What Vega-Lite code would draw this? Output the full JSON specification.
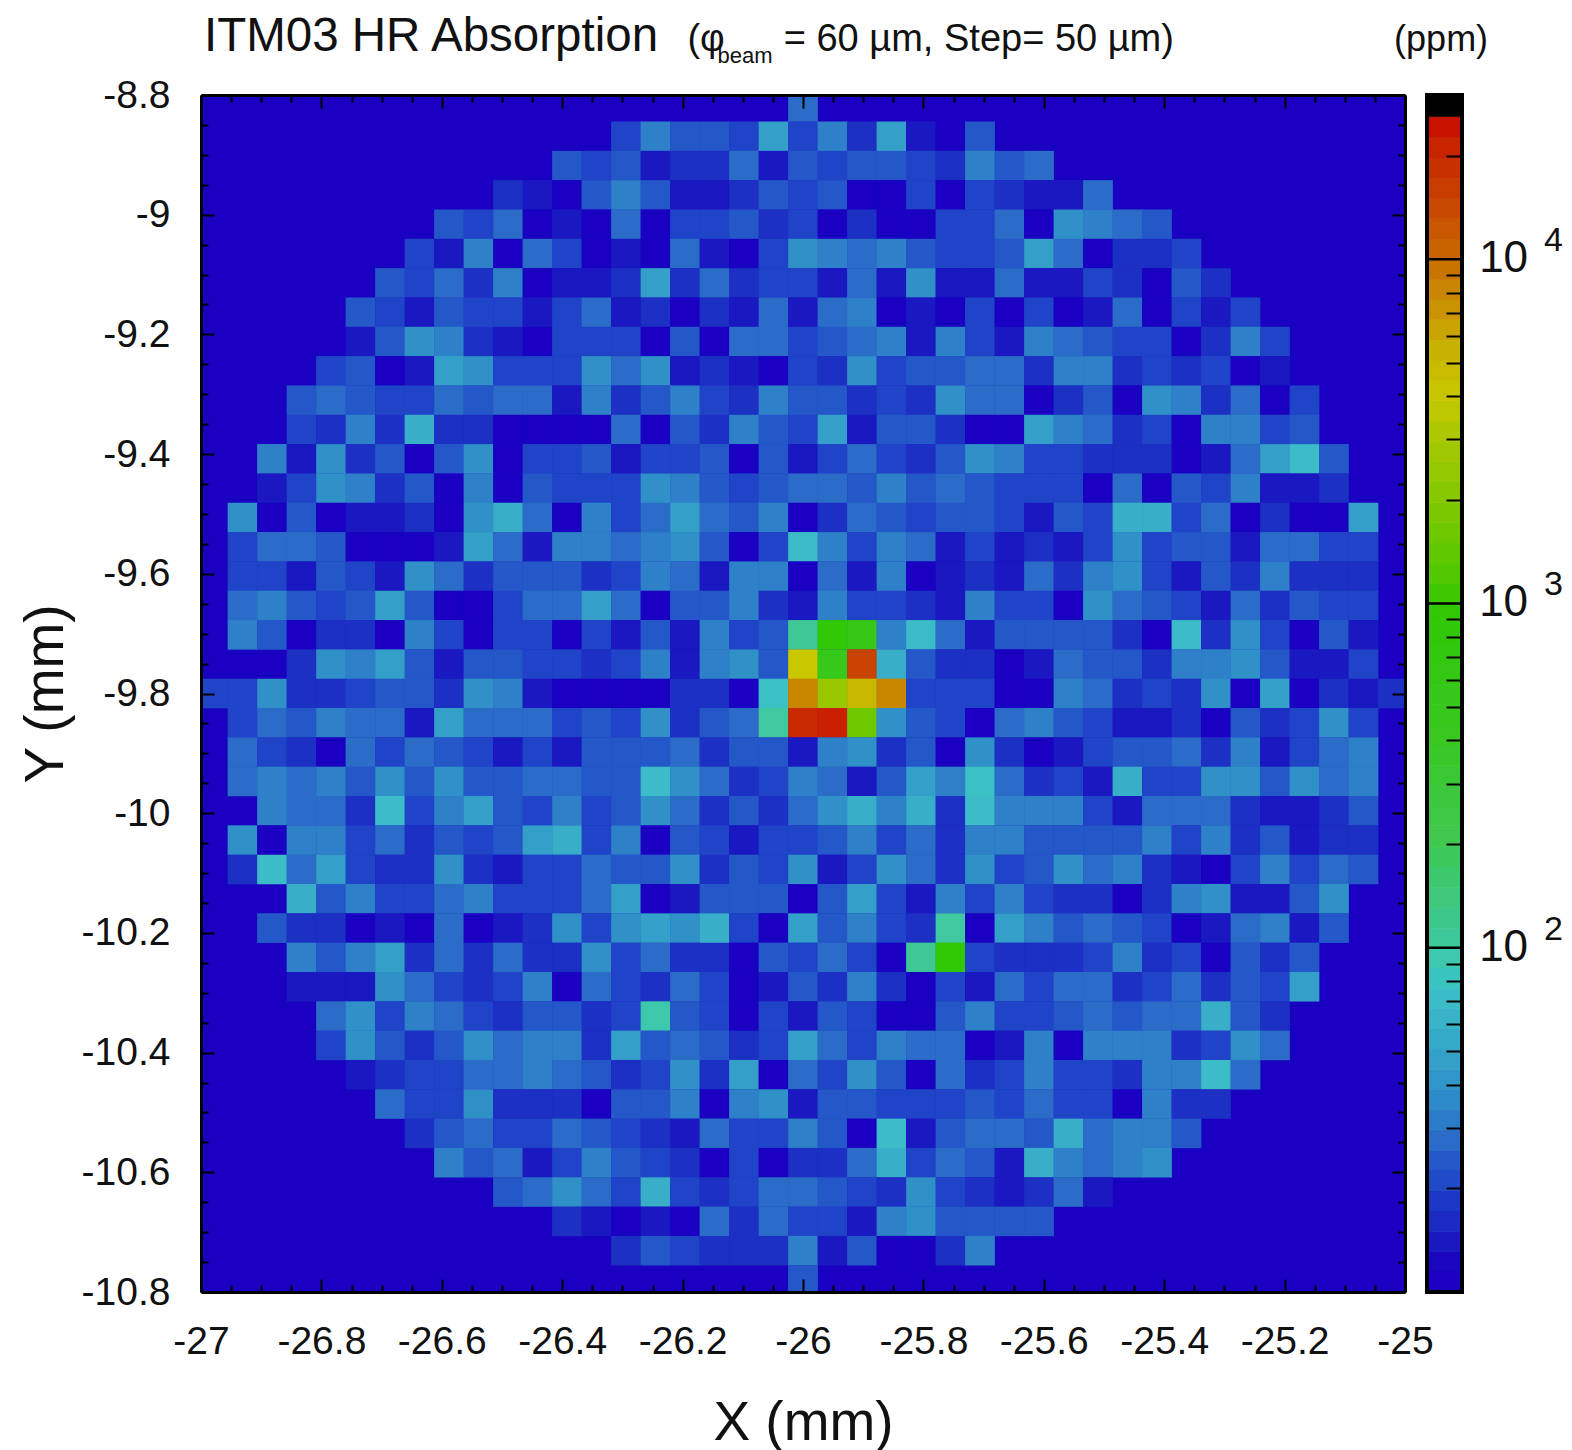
{"$schema":"https://vega.github.io/schema/vega-lite/v6.json","background":"white","padding":{"left":18,"top":12,"right":0,"bottom":0},"spacing":22,"bounds":"flush",
"config":{"font":"Liberation Sans"},
"datasets":{"cells":[
{"x":-26,"y":-8.82,"v":28},
{"x":-26.294,"y":-8.869,"v":20},{"x":-26.245,"y":-8.869,"v":33},{"x":-26.196,"y":-8.869,"v":24},{"x":-26.147,"y":-8.869,"v":24},{"x":-26.098,"y":-8.869,"v":20},{"x":-26.049,"y":-8.869,"v":46},{"x":-26,"y":-8.869,"v":20},{"x":-25.951,"y":-8.869,"v":33},{"x":-25.902,"y":-8.869,"v":17},{"x":-25.853,"y":-8.869,"v":46},{"x":-25.804,"y":-8.869,"v":14},{"x":-25.755,"y":-8.869,"v":11},{"x":-25.706,"y":-8.869,"v":24},
{"x":-26.392,"y":-8.918,"v":24},{"x":-26.343,"y":-8.918,"v":20},{"x":-26.294,"y":-8.918,"v":24},{"x":-26.245,"y":-8.918,"v":14},{"x":-26.196,"y":-8.918,"v":17},{"x":-26.147,"y":-8.918,"v":17},{"x":-26.098,"y":-8.918,"v":28},{"x":-26.049,"y":-8.918,"v":14},{"x":-26,"y":-8.918,"v":24},{"x":-25.951,"y":-8.918,"v":20},{"x":-25.902,"y":-8.918,"v":24},{"x":-25.853,"y":-8.918,"v":24},{"x":-25.804,"y":-8.918,"v":20},{"x":-25.755,"y":-8.918,"v":17},{"x":-25.706,"y":-8.918,"v":33},{"x":-25.657,"y":-8.918,"v":24},{"x":-25.608,"y":-8.918,"v":28},
{"x":-26.49,"y":-8.967,"v":17},{"x":-26.441,"y":-8.967,"v":14},{"x":-26.392,"y":-8.967,"v":11},{"x":-26.343,"y":-8.967,"v":24},{"x":-26.294,"y":-8.967,"v":33},{"x":-26.245,"y":-8.967,"v":24},{"x":-26.196,"y":-8.967,"v":14},{"x":-26.147,"y":-8.967,"v":14},{"x":-26.098,"y":-8.967,"v":17},{"x":-26.049,"y":-8.967,"v":24},{"x":-26,"y":-8.967,"v":20},{"x":-25.951,"y":-8.967,"v":24},{"x":-25.902,"y":-8.967,"v":11},{"x":-25.853,"y":-8.967,"v":11},{"x":-25.804,"y":-8.967,"v":20},{"x":-25.755,"y":-8.967,"v":11},{"x":-25.706,"y":-8.967,"v":20},{"x":-25.657,"y":-8.967,"v":17},{"x":-25.608,"y":-8.967,"v":14},{"x":-25.559,"y":-8.967,"v":14},{"x":-25.51,"y":-8.967,"v":28},
{"x":-26.588,"y":-9.016,"v":24},{"x":-26.539,"y":-9.016,"v":20},{"x":-26.49,"y":-9.016,"v":28},{"x":-26.441,"y":-9.016,"v":11},{"x":-26.392,"y":-9.016,"v":14},{"x":-26.343,"y":-9.016,"v":11},{"x":-26.294,"y":-9.016,"v":28},{"x":-26.245,"y":-9.016,"v":11},{"x":-26.196,"y":-9.016,"v":20},{"x":-26.147,"y":-9.016,"v":20},{"x":-26.098,"y":-9.016,"v":24},{"x":-26.049,"y":-9.016,"v":17},{"x":-26,"y":-9.016,"v":20},{"x":-25.951,"y":-9.016,"v":11},{"x":-25.902,"y":-9.016,"v":17},{"x":-25.853,"y":-9.016,"v":11},{"x":-25.804,"y":-9.016,"v":11},{"x":-25.755,"y":-9.016,"v":20},{"x":-25.706,"y":-9.016,"v":20},{"x":-25.657,"y":-9.016,"v":28},{"x":-25.608,"y":-9.016,"v":11},{"x":-25.559,"y":-9.016,"v":38},{"x":-25.51,"y":-9.016,"v":33},{"x":-25.461,"y":-9.016,"v":28},{"x":-25.412,"y":-9.016,"v":24},
{"x":-26.637,"y":-9.065,"v":20},{"x":-26.588,"y":-9.065,"v":14},{"x":-26.539,"y":-9.065,"v":33},{"x":-26.49,"y":-9.065,"v":11},{"x":-26.441,"y":-9.065,"v":28},{"x":-26.392,"y":-9.065,"v":20},{"x":-26.343,"y":-9.065,"v":11},{"x":-26.294,"y":-9.065,"v":14},{"x":-26.245,"y":-9.065,"v":11},{"x":-26.196,"y":-9.065,"v":28},{"x":-26.147,"y":-9.065,"v":14},{"x":-26.098,"y":-9.065,"v":11},{"x":-26.049,"y":-9.065,"v":20},{"x":-26,"y":-9.065,"v":38},{"x":-25.951,"y":-9.065,"v":33},{"x":-25.902,"y":-9.065,"v":28},{"x":-25.853,"y":-9.065,"v":33},{"x":-25.804,"y":-9.065,"v":24},{"x":-25.755,"y":-9.065,"v":20},{"x":-25.706,"y":-9.065,"v":20},{"x":-25.657,"y":-9.065,"v":24},{"x":-25.608,"y":-9.065,"v":46},{"x":-25.559,"y":-9.065,"v":28},{"x":-25.51,"y":-9.065,"v":11},{"x":-25.461,"y":-9.065,"v":17},{"x":-25.412,"y":-9.065,"v":17},{"x":-25.363,"y":-9.065,"v":20},
{"x":-26.686,"y":-9.114,"v":24},{"x":-26.637,"y":-9.114,"v":20},{"x":-26.588,"y":-9.114,"v":28},{"x":-26.539,"y":-9.114,"v":17},{"x":-26.49,"y":-9.114,"v":33},{"x":-26.441,"y":-9.114,"v":11},{"x":-26.392,"y":-9.114,"v":14},{"x":-26.343,"y":-9.114,"v":14},{"x":-26.294,"y":-9.114,"v":17},{"x":-26.245,"y":-9.114,"v":46},{"x":-26.196,"y":-9.114,"v":17},{"x":-26.147,"y":-9.114,"v":28},{"x":-26.098,"y":-9.114,"v":17},{"x":-26.049,"y":-9.114,"v":20},{"x":-26,"y":-9.114,"v":20},{"x":-25.951,"y":-9.114,"v":14},{"x":-25.902,"y":-9.114,"v":28},{"x":-25.853,"y":-9.114,"v":14},{"x":-25.804,"y":-9.114,"v":38},{"x":-25.755,"y":-9.114,"v":14},{"x":-25.706,"y":-9.114,"v":14},{"x":-25.657,"y":-9.114,"v":28},{"x":-25.608,"y":-9.114,"v":14},{"x":-25.559,"y":-9.114,"v":14},{"x":-25.51,"y":-9.114,"v":20},{"x":-25.461,"y":-9.114,"v":17},{"x":-25.412,"y":-9.114,"v":11},{"x":-25.363,"y":-9.114,"v":24},{"x":-25.314,"y":-9.114,"v":17},
{"x":-26.735,"y":-9.163,"v":24},{"x":-26.686,"y":-9.163,"v":20},{"x":-26.637,"y":-9.163,"v":14},{"x":-26.588,"y":-9.163,"v":24},{"x":-26.539,"y":-9.163,"v":20},{"x":-26.49,"y":-9.163,"v":20},{"x":-26.441,"y":-9.163,"v":14},{"x":-26.392,"y":-9.163,"v":20},{"x":-26.343,"y":-9.163,"v":28},{"x":-26.294,"y":-9.163,"v":14},{"x":-26.245,"y":-9.163,"v":17},{"x":-26.196,"y":-9.163,"v":11},{"x":-26.147,"y":-9.163,"v":17},{"x":-26.098,"y":-9.163,"v":14},{"x":-26.049,"y":-9.163,"v":28},{"x":-26,"y":-9.163,"v":14},{"x":-25.951,"y":-9.163,"v":28},{"x":-25.902,"y":-9.163,"v":33},{"x":-25.853,"y":-9.163,"v":11},{"x":-25.804,"y":-9.163,"v":14},{"x":-25.755,"y":-9.163,"v":11},{"x":-25.706,"y":-9.163,"v":20},{"x":-25.657,"y":-9.163,"v":11},{"x":-25.608,"y":-9.163,"v":20},{"x":-25.559,"y":-9.163,"v":11},{"x":-25.51,"y":-9.163,"v":14},{"x":-25.461,"y":-9.163,"v":28},{"x":-25.412,"y":-9.163,"v":11},{"x":-25.363,"y":-9.163,"v":20},{"x":-25.314,"y":-9.163,"v":14},{"x":-25.265,"y":-9.163,"v":20},
{"x":-26.735,"y":-9.212,"v":14},{"x":-26.686,"y":-9.212,"v":24},{"x":-26.637,"y":-9.212,"v":38},{"x":-26.588,"y":-9.212,"v":33},{"x":-26.539,"y":-9.212,"v":17},{"x":-26.49,"y":-9.212,"v":14},{"x":-26.441,"y":-9.212,"v":11},{"x":-26.392,"y":-9.212,"v":20},{"x":-26.343,"y":-9.212,"v":20},{"x":-26.294,"y":-9.212,"v":20},{"x":-26.245,"y":-9.212,"v":11},{"x":-26.196,"y":-9.212,"v":24},{"x":-26.147,"y":-9.212,"v":11},{"x":-26.098,"y":-9.212,"v":28},{"x":-26.049,"y":-9.212,"v":28},{"x":-26,"y":-9.212,"v":20},{"x":-25.951,"y":-9.212,"v":24},{"x":-25.902,"y":-9.212,"v":28},{"x":-25.853,"y":-9.212,"v":33},{"x":-25.804,"y":-9.212,"v":14},{"x":-25.755,"y":-9.212,"v":33},{"x":-25.706,"y":-9.212,"v":20},{"x":-25.657,"y":-9.212,"v":14},{"x":-25.608,"y":-9.212,"v":33},{"x":-25.559,"y":-9.212,"v":28},{"x":-25.51,"y":-9.212,"v":24},{"x":-25.461,"y":-9.212,"v":20},{"x":-25.412,"y":-9.212,"v":20},{"x":-25.363,"y":-9.212,"v":11},{"x":-25.314,"y":-9.212,"v":17},{"x":-25.265,"y":-9.212,"v":33},{"x":-25.216,"y":-9.212,"v":20},
{"x":-26.784,"y":-9.261,"v":20},{"x":-26.735,"y":-9.261,"v":24},{"x":-26.686,"y":-9.261,"v":11},{"x":-26.637,"y":-9.261,"v":14},{"x":-26.588,"y":-9.261,"v":46},{"x":-26.539,"y":-9.261,"v":38},{"x":-26.49,"y":-9.261,"v":20},{"x":-26.441,"y":-9.261,"v":20},{"x":-26.392,"y":-9.261,"v":20},{"x":-26.343,"y":-9.261,"v":38},{"x":-26.294,"y":-9.261,"v":28},{"x":-26.245,"y":-9.261,"v":38},{"x":-26.196,"y":-9.261,"v":14},{"x":-26.147,"y":-9.261,"v":17},{"x":-26.098,"y":-9.261,"v":14},{"x":-26.049,"y":-9.261,"v":11},{"x":-26,"y":-9.261,"v":20},{"x":-25.951,"y":-9.261,"v":17},{"x":-25.902,"y":-9.261,"v":38},{"x":-25.853,"y":-9.261,"v":20},{"x":-25.804,"y":-9.261,"v":24},{"x":-25.755,"y":-9.261,"v":24},{"x":-25.706,"y":-9.261,"v":28},{"x":-25.657,"y":-9.261,"v":28},{"x":-25.608,"y":-9.261,"v":17},{"x":-25.559,"y":-9.261,"v":33},{"x":-25.51,"y":-9.261,"v":33},{"x":-25.461,"y":-9.261,"v":17},{"x":-25.412,"y":-9.261,"v":20},{"x":-25.363,"y":-9.261,"v":17},{"x":-25.314,"y":-9.261,"v":20},{"x":-25.265,"y":-9.261,"v":11},{"x":-25.216,"y":-9.261,"v":14},
{"x":-26.833,"y":-9.31,"v":24},{"x":-26.784,"y":-9.31,"v":28},{"x":-26.735,"y":-9.31,"v":24},{"x":-26.686,"y":-9.31,"v":20},{"x":-26.637,"y":-9.31,"v":20},{"x":-26.588,"y":-9.31,"v":28},{"x":-26.539,"y":-9.31,"v":24},{"x":-26.49,"y":-9.31,"v":28},{"x":-26.441,"y":-9.31,"v":28},{"x":-26.392,"y":-9.31,"v":14},{"x":-26.343,"y":-9.31,"v":33},{"x":-26.294,"y":-9.31,"v":17},{"x":-26.245,"y":-9.31,"v":24},{"x":-26.196,"y":-9.31,"v":33},{"x":-26.147,"y":-9.31,"v":20},{"x":-26.098,"y":-9.31,"v":17},{"x":-26.049,"y":-9.31,"v":33},{"x":-26,"y":-9.31,"v":24},{"x":-25.951,"y":-9.31,"v":24},{"x":-25.902,"y":-9.31,"v":17},{"x":-25.853,"y":-9.31,"v":20},{"x":-25.804,"y":-9.31,"v":17},{"x":-25.755,"y":-9.31,"v":38},{"x":-25.706,"y":-9.31,"v":28},{"x":-25.657,"y":-9.31,"v":28},{"x":-25.608,"y":-9.31,"v":11},{"x":-25.559,"y":-9.31,"v":17},{"x":-25.51,"y":-9.31,"v":24},{"x":-25.461,"y":-9.31,"v":11},{"x":-25.412,"y":-9.31,"v":38},{"x":-25.363,"y":-9.31,"v":33},{"x":-25.314,"y":-9.31,"v":17},{"x":-25.265,"y":-9.31,"v":28},{"x":-25.216,"y":-9.31,"v":11},{"x":-25.167,"y":-9.31,"v":20},
{"x":-26.833,"y":-9.359,"v":20},{"x":-26.784,"y":-9.359,"v":17},{"x":-26.735,"y":-9.359,"v":33},{"x":-26.686,"y":-9.359,"v":17},{"x":-26.637,"y":-9.359,"v":58},{"x":-26.588,"y":-9.359,"v":17},{"x":-26.539,"y":-9.359,"v":17},{"x":-26.49,"y":-9.359,"v":11},{"x":-26.441,"y":-9.359,"v":11},{"x":-26.392,"y":-9.359,"v":11},{"x":-26.343,"y":-9.359,"v":11},{"x":-26.294,"y":-9.359,"v":28},{"x":-26.245,"y":-9.359,"v":11},{"x":-26.196,"y":-9.359,"v":24},{"x":-26.147,"y":-9.359,"v":17},{"x":-26.098,"y":-9.359,"v":33},{"x":-26.049,"y":-9.359,"v":24},{"x":-26,"y":-9.359,"v":20},{"x":-25.951,"y":-9.359,"v":46},{"x":-25.902,"y":-9.359,"v":14},{"x":-25.853,"y":-9.359,"v":24},{"x":-25.804,"y":-9.359,"v":24},{"x":-25.755,"y":-9.359,"v":17},{"x":-25.706,"y":-9.359,"v":11},{"x":-25.657,"y":-9.359,"v":11},{"x":-25.608,"y":-9.359,"v":46},{"x":-25.559,"y":-9.359,"v":33},{"x":-25.51,"y":-9.359,"v":28},{"x":-25.461,"y":-9.359,"v":17},{"x":-25.412,"y":-9.359,"v":20},{"x":-25.363,"y":-9.359,"v":11},{"x":-25.314,"y":-9.359,"v":33},{"x":-25.265,"y":-9.359,"v":33},{"x":-25.216,"y":-9.359,"v":20},{"x":-25.167,"y":-9.359,"v":24},
{"x":-26.882,"y":-9.408,"v":33},{"x":-26.833,"y":-9.408,"v":14},{"x":-26.784,"y":-9.408,"v":38},{"x":-26.735,"y":-9.408,"v":17},{"x":-26.686,"y":-9.408,"v":24},{"x":-26.637,"y":-9.408,"v":11},{"x":-26.588,"y":-9.408,"v":24},{"x":-26.539,"y":-9.408,"v":38},{"x":-26.49,"y":-9.408,"v":11},{"x":-26.441,"y":-9.408,"v":20},{"x":-26.392,"y":-9.408,"v":20},{"x":-26.343,"y":-9.408,"v":24},{"x":-26.294,"y":-9.408,"v":14},{"x":-26.245,"y":-9.408,"v":20},{"x":-26.196,"y":-9.408,"v":20},{"x":-26.147,"y":-9.408,"v":24},{"x":-26.098,"y":-9.408,"v":11},{"x":-26.049,"y":-9.408,"v":24},{"x":-26,"y":-9.408,"v":14},{"x":-25.951,"y":-9.408,"v":20},{"x":-25.902,"y":-9.408,"v":28},{"x":-25.853,"y":-9.408,"v":20},{"x":-25.804,"y":-9.408,"v":17},{"x":-25.755,"y":-9.408,"v":24},{"x":-25.706,"y":-9.408,"v":38},{"x":-25.657,"y":-9.408,"v":33},{"x":-25.608,"y":-9.408,"v":20},{"x":-25.559,"y":-9.408,"v":20},{"x":-25.51,"y":-9.408,"v":17},{"x":-25.461,"y":-9.408,"v":17},{"x":-25.412,"y":-9.408,"v":17},{"x":-25.363,"y":-9.408,"v":11},{"x":-25.314,"y":-9.408,"v":14},{"x":-25.265,"y":-9.408,"v":28},{"x":-25.216,"y":-9.408,"v":46},{"x":-25.167,"y":-9.408,"v":70},{"x":-25.118,"y":-9.408,"v":24},
{"x":-26.882,"y":-9.457,"v":14},{"x":-26.833,"y":-9.457,"v":20},{"x":-26.784,"y":-9.457,"v":38},{"x":-26.735,"y":-9.457,"v":33},{"x":-26.686,"y":-9.457,"v":17},{"x":-26.637,"y":-9.457,"v":24},{"x":-26.588,"y":-9.457,"v":11},{"x":-26.539,"y":-9.457,"v":33},{"x":-26.49,"y":-9.457,"v":11},{"x":-26.441,"y":-9.457,"v":24},{"x":-26.392,"y":-9.457,"v":20},{"x":-26.343,"y":-9.457,"v":20},{"x":-26.294,"y":-9.457,"v":20},{"x":-26.245,"y":-9.457,"v":38},{"x":-26.196,"y":-9.457,"v":33},{"x":-26.147,"y":-9.457,"v":24},{"x":-26.098,"y":-9.457,"v":20},{"x":-26.049,"y":-9.457,"v":24},{"x":-26,"y":-9.457,"v":28},{"x":-25.951,"y":-9.457,"v":28},{"x":-25.902,"y":-9.457,"v":24},{"x":-25.853,"y":-9.457,"v":33},{"x":-25.804,"y":-9.457,"v":24},{"x":-25.755,"y":-9.457,"v":28},{"x":-25.706,"y":-9.457,"v":24},{"x":-25.657,"y":-9.457,"v":20},{"x":-25.608,"y":-9.457,"v":20},{"x":-25.559,"y":-9.457,"v":20},{"x":-25.51,"y":-9.457,"v":11},{"x":-25.461,"y":-9.457,"v":28},{"x":-25.412,"y":-9.457,"v":11},{"x":-25.363,"y":-9.457,"v":24},{"x":-25.314,"y":-9.457,"v":20},{"x":-25.265,"y":-9.457,"v":33},{"x":-25.216,"y":-9.457,"v":14},{"x":-25.167,"y":-9.457,"v":14},{"x":-25.118,"y":-9.457,"v":17},
{"x":-26.931,"y":-9.506,"v":38},{"x":-26.882,"y":-9.506,"v":11},{"x":-26.833,"y":-9.506,"v":24},{"x":-26.784,"y":-9.506,"v":11},{"x":-26.735,"y":-9.506,"v":14},{"x":-26.686,"y":-9.506,"v":14},{"x":-26.637,"y":-9.506,"v":17},{"x":-26.588,"y":-9.506,"v":11},{"x":-26.539,"y":-9.506,"v":38},{"x":-26.49,"y":-9.506,"v":58},{"x":-26.441,"y":-9.506,"v":28},{"x":-26.392,"y":-9.506,"v":11},{"x":-26.343,"y":-9.506,"v":33},{"x":-26.294,"y":-9.506,"v":20},{"x":-26.245,"y":-9.506,"v":28},{"x":-26.196,"y":-9.506,"v":46},{"x":-26.147,"y":-9.506,"v":28},{"x":-26.098,"y":-9.506,"v":24},{"x":-26.049,"y":-9.506,"v":33},{"x":-26,"y":-9.506,"v":11},{"x":-25.951,"y":-9.506,"v":17},{"x":-25.902,"y":-9.506,"v":28},{"x":-25.853,"y":-9.506,"v":24},{"x":-25.804,"y":-9.506,"v":20},{"x":-25.755,"y":-9.506,"v":24},{"x":-25.706,"y":-9.506,"v":24},{"x":-25.657,"y":-9.506,"v":20},{"x":-25.608,"y":-9.506,"v":14},{"x":-25.559,"y":-9.506,"v":24},{"x":-25.51,"y":-9.506,"v":20},{"x":-25.461,"y":-9.506,"v":58},{"x":-25.412,"y":-9.506,"v":58},{"x":-25.363,"y":-9.506,"v":20},{"x":-25.314,"y":-9.506,"v":28},{"x":-25.265,"y":-9.506,"v":11},{"x":-25.216,"y":-9.506,"v":17},{"x":-25.167,"y":-9.506,"v":11},{"x":-25.118,"y":-9.506,"v":11},{"x":-25.069,"y":-9.506,"v":46},
{"x":-26.931,"y":-9.555,"v":20},{"x":-26.882,"y":-9.555,"v":28},{"x":-26.833,"y":-9.555,"v":28},{"x":-26.784,"y":-9.555,"v":24},{"x":-26.735,"y":-9.555,"v":11},{"x":-26.686,"y":-9.555,"v":11},{"x":-26.637,"y":-9.555,"v":11},{"x":-26.588,"y":-9.555,"v":14},{"x":-26.539,"y":-9.555,"v":46},{"x":-26.49,"y":-9.555,"v":28},{"x":-26.441,"y":-9.555,"v":14},{"x":-26.392,"y":-9.555,"v":33},{"x":-26.343,"y":-9.555,"v":33},{"x":-26.294,"y":-9.555,"v":28},{"x":-26.245,"y":-9.555,"v":33},{"x":-26.196,"y":-9.555,"v":38},{"x":-26.147,"y":-9.555,"v":24},{"x":-26.098,"y":-9.555,"v":11},{"x":-26.049,"y":-9.555,"v":20},{"x":-26,"y":-9.555,"v":70},{"x":-25.951,"y":-9.555,"v":33},{"x":-25.902,"y":-9.555,"v":20},{"x":-25.853,"y":-9.555,"v":33},{"x":-25.804,"y":-9.555,"v":28},{"x":-25.755,"y":-9.555,"v":14},{"x":-25.706,"y":-9.555,"v":20},{"x":-25.657,"y":-9.555,"v":14},{"x":-25.608,"y":-9.555,"v":17},{"x":-25.559,"y":-9.555,"v":14},{"x":-25.51,"y":-9.555,"v":20},{"x":-25.461,"y":-9.555,"v":38},{"x":-25.412,"y":-9.555,"v":20},{"x":-25.363,"y":-9.555,"v":24},{"x":-25.314,"y":-9.555,"v":24},{"x":-25.265,"y":-9.555,"v":14},{"x":-25.216,"y":-9.555,"v":28},{"x":-25.167,"y":-9.555,"v":28},{"x":-25.118,"y":-9.555,"v":20},{"x":-25.069,"y":-9.555,"v":20},
{"x":-26.931,"y":-9.604,"v":20},{"x":-26.882,"y":-9.604,"v":20},{"x":-26.833,"y":-9.604,"v":14},{"x":-26.784,"y":-9.604,"v":24},{"x":-26.735,"y":-9.604,"v":20},{"x":-26.686,"y":-9.604,"v":14},{"x":-26.637,"y":-9.604,"v":38},{"x":-26.588,"y":-9.604,"v":28},{"x":-26.539,"y":-9.604,"v":17},{"x":-26.49,"y":-9.604,"v":24},{"x":-26.441,"y":-9.604,"v":24},{"x":-26.392,"y":-9.604,"v":24},{"x":-26.343,"y":-9.604,"v":17},{"x":-26.294,"y":-9.604,"v":20},{"x":-26.245,"y":-9.604,"v":33},{"x":-26.196,"y":-9.604,"v":28},{"x":-26.147,"y":-9.604,"v":14},{"x":-26.098,"y":-9.604,"v":33},{"x":-26.049,"y":-9.604,"v":33},{"x":-26,"y":-9.604,"v":11},{"x":-25.951,"y":-9.604,"v":28},{"x":-25.902,"y":-9.604,"v":14},{"x":-25.853,"y":-9.604,"v":33},{"x":-25.804,"y":-9.604,"v":11},{"x":-25.755,"y":-9.604,"v":14},{"x":-25.706,"y":-9.604,"v":17},{"x":-25.657,"y":-9.604,"v":14},{"x":-25.608,"y":-9.604,"v":28},{"x":-25.559,"y":-9.604,"v":17},{"x":-25.51,"y":-9.604,"v":33},{"x":-25.461,"y":-9.604,"v":38},{"x":-25.412,"y":-9.604,"v":20},{"x":-25.363,"y":-9.604,"v":14},{"x":-25.314,"y":-9.604,"v":24},{"x":-25.265,"y":-9.604,"v":17},{"x":-25.216,"y":-9.604,"v":33},{"x":-25.167,"y":-9.604,"v":17},{"x":-25.118,"y":-9.604,"v":17},{"x":-25.069,"y":-9.604,"v":17},
{"x":-26.931,"y":-9.653,"v":28},{"x":-26.882,"y":-9.653,"v":33},{"x":-26.833,"y":-9.653,"v":24},{"x":-26.784,"y":-9.653,"v":20},{"x":-26.735,"y":-9.653,"v":24},{"x":-26.686,"y":-9.653,"v":46},{"x":-26.637,"y":-9.653,"v":24},{"x":-26.588,"y":-9.653,"v":11},{"x":-26.539,"y":-9.653,"v":11},{"x":-26.49,"y":-9.653,"v":20},{"x":-26.441,"y":-9.653,"v":28},{"x":-26.392,"y":-9.653,"v":28},{"x":-26.343,"y":-9.653,"v":46},{"x":-26.294,"y":-9.653,"v":28},{"x":-26.245,"y":-9.653,"v":11},{"x":-26.196,"y":-9.653,"v":24},{"x":-26.147,"y":-9.653,"v":24},{"x":-26.098,"y":-9.653,"v":33},{"x":-26.049,"y":-9.653,"v":17},{"x":-26,"y":-9.653,"v":14},{"x":-25.951,"y":-9.653,"v":33},{"x":-25.902,"y":-9.653,"v":20},{"x":-25.853,"y":-9.653,"v":20},{"x":-25.804,"y":-9.653,"v":17},{"x":-25.755,"y":-9.653,"v":14},{"x":-25.706,"y":-9.653,"v":33},{"x":-25.657,"y":-9.653,"v":20},{"x":-25.608,"y":-9.653,"v":20},{"x":-25.559,"y":-9.653,"v":11},{"x":-25.51,"y":-9.653,"v":38},{"x":-25.461,"y":-9.653,"v":28},{"x":-25.412,"y":-9.653,"v":24},{"x":-25.363,"y":-9.653,"v":20},{"x":-25.314,"y":-9.653,"v":14},{"x":-25.265,"y":-9.653,"v":28},{"x":-25.216,"y":-9.653,"v":17},{"x":-25.167,"y":-9.653,"v":24},{"x":-25.118,"y":-9.653,"v":20},{"x":-25.069,"y":-9.653,"v":20},
{"x":-26.931,"y":-9.702,"v":33},{"x":-26.882,"y":-9.702,"v":24},{"x":-26.833,"y":-9.702,"v":11},{"x":-26.784,"y":-9.702,"v":17},{"x":-26.735,"y":-9.702,"v":17},{"x":-26.686,"y":-9.702,"v":11},{"x":-26.637,"y":-9.702,"v":33},{"x":-26.588,"y":-9.702,"v":20},{"x":-26.539,"y":-9.702,"v":11},{"x":-26.49,"y":-9.702,"v":20},{"x":-26.441,"y":-9.702,"v":20},{"x":-26.392,"y":-9.702,"v":11},{"x":-26.343,"y":-9.702,"v":20},{"x":-26.294,"y":-9.702,"v":14},{"x":-26.245,"y":-9.702,"v":24},{"x":-26.196,"y":-9.702,"v":14},{"x":-26.147,"y":-9.702,"v":33},{"x":-26.098,"y":-9.702,"v":20},{"x":-26.049,"y":-9.702,"v":24},{"x":-26,"y":-9.702,"v":110},{"x":-25.951,"y":-9.702,"v":900},{"x":-25.902,"y":-9.702,"v":600},{"x":-25.853,"y":-9.702,"v":33},{"x":-25.804,"y":-9.702,"v":70},{"x":-25.755,"y":-9.702,"v":28},{"x":-25.706,"y":-9.702,"v":14},{"x":-25.657,"y":-9.702,"v":24},{"x":-25.608,"y":-9.702,"v":24},{"x":-25.559,"y":-9.702,"v":24},{"x":-25.51,"y":-9.702,"v":24},{"x":-25.461,"y":-9.702,"v":17},{"x":-25.412,"y":-9.702,"v":11},{"x":-25.363,"y":-9.702,"v":70},{"x":-25.314,"y":-9.702,"v":17},{"x":-25.265,"y":-9.702,"v":38},{"x":-25.216,"y":-9.702,"v":20},{"x":-25.167,"y":-9.702,"v":11},{"x":-25.118,"y":-9.702,"v":24},{"x":-25.069,"y":-9.702,"v":14},
{"x":-26.833,"y":-9.751,"v":17},{"x":-26.784,"y":-9.751,"v":38},{"x":-26.735,"y":-9.751,"v":33},{"x":-26.686,"y":-9.751,"v":46},{"x":-26.637,"y":-9.751,"v":24},{"x":-26.588,"y":-9.751,"v":14},{"x":-26.539,"y":-9.751,"v":24},{"x":-26.49,"y":-9.751,"v":24},{"x":-26.441,"y":-9.751,"v":20},{"x":-26.392,"y":-9.751,"v":20},{"x":-26.343,"y":-9.751,"v":17},{"x":-26.294,"y":-9.751,"v":20},{"x":-26.245,"y":-9.751,"v":33},{"x":-26.196,"y":-9.751,"v":14},{"x":-26.147,"y":-9.751,"v":33},{"x":-26.098,"y":-9.751,"v":38},{"x":-26.049,"y":-9.751,"v":24},{"x":-26,"y":-9.751,"v":4000},{"x":-25.951,"y":-9.751,"v":500},{"x":-25.902,"y":-9.751,"v":15000},{"x":-25.853,"y":-9.751,"v":58},{"x":-25.804,"y":-9.751,"v":24},{"x":-25.755,"y":-9.751,"v":17},{"x":-25.706,"y":-9.751,"v":17},{"x":-25.657,"y":-9.751,"v":11},{"x":-25.608,"y":-9.751,"v":14},{"x":-25.559,"y":-9.751,"v":28},{"x":-25.51,"y":-9.751,"v":24},{"x":-25.461,"y":-9.751,"v":24},{"x":-25.412,"y":-9.751,"v":17},{"x":-25.363,"y":-9.751,"v":33},{"x":-25.314,"y":-9.751,"v":33},{"x":-25.265,"y":-9.751,"v":38},{"x":-25.216,"y":-9.751,"v":24},{"x":-25.167,"y":-9.751,"v":14},{"x":-25.118,"y":-9.751,"v":14},{"x":-25.069,"y":-9.751,"v":20},
{"x":-26.98,"y":-9.8,"v":20},{"x":-26.931,"y":-9.8,"v":20},{"x":-26.882,"y":-9.8,"v":38},{"x":-26.833,"y":-9.8,"v":17},{"x":-26.784,"y":-9.8,"v":17},{"x":-26.735,"y":-9.8,"v":20},{"x":-26.686,"y":-9.8,"v":24},{"x":-26.637,"y":-9.8,"v":24},{"x":-26.588,"y":-9.8,"v":17},{"x":-26.539,"y":-9.8,"v":38},{"x":-26.49,"y":-9.8,"v":33},{"x":-26.441,"y":-9.8,"v":14},{"x":-26.392,"y":-9.8,"v":11},{"x":-26.343,"y":-9.8,"v":11},{"x":-26.294,"y":-9.8,"v":11},{"x":-26.245,"y":-9.8,"v":11},{"x":-26.196,"y":-9.8,"v":17},{"x":-26.147,"y":-9.8,"v":17},{"x":-26.098,"y":-9.8,"v":11},{"x":-26.049,"y":-9.8,"v":75},{"x":-26,"y":-9.8,"v":8000},{"x":-25.951,"y":-9.8,"v":2500},{"x":-25.902,"y":-9.8,"v":5000},{"x":-25.853,"y":-9.8,"v":8000},{"x":-25.804,"y":-9.8,"v":20},{"x":-25.755,"y":-9.8,"v":20},{"x":-25.706,"y":-9.8,"v":20},{"x":-25.657,"y":-9.8,"v":11},{"x":-25.608,"y":-9.8,"v":11},{"x":-25.559,"y":-9.8,"v":33},{"x":-25.51,"y":-9.8,"v":28},{"x":-25.461,"y":-9.8,"v":17},{"x":-25.412,"y":-9.8,"v":20},{"x":-25.363,"y":-9.8,"v":17},{"x":-25.314,"y":-9.8,"v":38},{"x":-25.265,"y":-9.8,"v":11},{"x":-25.216,"y":-9.8,"v":46},{"x":-25.167,"y":-9.8,"v":11},{"x":-25.118,"y":-9.8,"v":17},{"x":-25.069,"y":-9.8,"v":14},{"x":-25.02,"y":-9.8,"v":17},
{"x":-26.931,"y":-9.849,"v":20},{"x":-26.882,"y":-9.849,"v":28},{"x":-26.833,"y":-9.849,"v":24},{"x":-26.784,"y":-9.849,"v":33},{"x":-26.735,"y":-9.849,"v":28},{"x":-26.686,"y":-9.849,"v":28},{"x":-26.637,"y":-9.849,"v":14},{"x":-26.588,"y":-9.849,"v":46},{"x":-26.539,"y":-9.849,"v":28},{"x":-26.49,"y":-9.849,"v":28},{"x":-26.441,"y":-9.849,"v":28},{"x":-26.392,"y":-9.849,"v":20},{"x":-26.343,"y":-9.849,"v":24},{"x":-26.294,"y":-9.849,"v":20},{"x":-26.245,"y":-9.849,"v":38},{"x":-26.196,"y":-9.849,"v":17},{"x":-26.147,"y":-9.849,"v":24},{"x":-26.098,"y":-9.849,"v":28},{"x":-26.049,"y":-9.849,"v":100},{"x":-26,"y":-9.849,"v":20000},{"x":-25.951,"y":-9.849,"v":22000},{"x":-25.902,"y":-9.849,"v":1600},{"x":-25.853,"y":-9.849,"v":38},{"x":-25.804,"y":-9.849,"v":24},{"x":-25.755,"y":-9.849,"v":20},{"x":-25.706,"y":-9.849,"v":11},{"x":-25.657,"y":-9.849,"v":28},{"x":-25.608,"y":-9.849,"v":33},{"x":-25.559,"y":-9.849,"v":24},{"x":-25.51,"y":-9.849,"v":20},{"x":-25.461,"y":-9.849,"v":14},{"x":-25.412,"y":-9.849,"v":14},{"x":-25.363,"y":-9.849,"v":17},{"x":-25.314,"y":-9.849,"v":11},{"x":-25.265,"y":-9.849,"v":24},{"x":-25.216,"y":-9.849,"v":17},{"x":-25.167,"y":-9.849,"v":20},{"x":-25.118,"y":-9.849,"v":38},{"x":-25.069,"y":-9.849,"v":20},
{"x":-26.931,"y":-9.898,"v":28},{"x":-26.882,"y":-9.898,"v":20},{"x":-26.833,"y":-9.898,"v":17},{"x":-26.784,"y":-9.898,"v":11},{"x":-26.735,"y":-9.898,"v":28},{"x":-26.686,"y":-9.898,"v":20},{"x":-26.637,"y":-9.898,"v":28},{"x":-26.588,"y":-9.898,"v":24},{"x":-26.539,"y":-9.898,"v":20},{"x":-26.49,"y":-9.898,"v":14},{"x":-26.441,"y":-9.898,"v":20},{"x":-26.392,"y":-9.898,"v":14},{"x":-26.343,"y":-9.898,"v":24},{"x":-26.294,"y":-9.898,"v":24},{"x":-26.245,"y":-9.898,"v":24},{"x":-26.196,"y":-9.898,"v":28},{"x":-26.147,"y":-9.898,"v":17},{"x":-26.098,"y":-9.898,"v":24},{"x":-26.049,"y":-9.898,"v":24},{"x":-26,"y":-9.898,"v":14},{"x":-25.951,"y":-9.898,"v":33},{"x":-25.902,"y":-9.898,"v":38},{"x":-25.853,"y":-9.898,"v":17},{"x":-25.804,"y":-9.898,"v":24},{"x":-25.755,"y":-9.898,"v":11},{"x":-25.706,"y":-9.898,"v":38},{"x":-25.657,"y":-9.898,"v":17},{"x":-25.608,"y":-9.898,"v":11},{"x":-25.559,"y":-9.898,"v":14},{"x":-25.51,"y":-9.898,"v":20},{"x":-25.461,"y":-9.898,"v":24},{"x":-25.412,"y":-9.898,"v":24},{"x":-25.363,"y":-9.898,"v":28},{"x":-25.314,"y":-9.898,"v":17},{"x":-25.265,"y":-9.898,"v":33},{"x":-25.216,"y":-9.898,"v":14},{"x":-25.167,"y":-9.898,"v":20},{"x":-25.118,"y":-9.898,"v":28},{"x":-25.069,"y":-9.898,"v":33},
{"x":-26.931,"y":-9.947,"v":28},{"x":-26.882,"y":-9.947,"v":33},{"x":-26.833,"y":-9.947,"v":28},{"x":-26.784,"y":-9.947,"v":33},{"x":-26.735,"y":-9.947,"v":24},{"x":-26.686,"y":-9.947,"v":38},{"x":-26.637,"y":-9.947,"v":24},{"x":-26.588,"y":-9.947,"v":38},{"x":-26.539,"y":-9.947,"v":24},{"x":-26.49,"y":-9.947,"v":24},{"x":-26.441,"y":-9.947,"v":28},{"x":-26.392,"y":-9.947,"v":28},{"x":-26.343,"y":-9.947,"v":24},{"x":-26.294,"y":-9.947,"v":24},{"x":-26.245,"y":-9.947,"v":70},{"x":-26.196,"y":-9.947,"v":38},{"x":-26.147,"y":-9.947,"v":28},{"x":-26.098,"y":-9.947,"v":17},{"x":-26.049,"y":-9.947,"v":20},{"x":-26,"y":-9.947,"v":33},{"x":-25.951,"y":-9.947,"v":28},{"x":-25.902,"y":-9.947,"v":14},{"x":-25.853,"y":-9.947,"v":24},{"x":-25.804,"y":-9.947,"v":46},{"x":-25.755,"y":-9.947,"v":33},{"x":-25.706,"y":-9.947,"v":75},{"x":-25.657,"y":-9.947,"v":28},{"x":-25.608,"y":-9.947,"v":17},{"x":-25.559,"y":-9.947,"v":20},{"x":-25.51,"y":-9.947,"v":14},{"x":-25.461,"y":-9.947,"v":58},{"x":-25.412,"y":-9.947,"v":20},{"x":-25.363,"y":-9.947,"v":20},{"x":-25.314,"y":-9.947,"v":38},{"x":-25.265,"y":-9.947,"v":38},{"x":-25.216,"y":-9.947,"v":24},{"x":-25.167,"y":-9.947,"v":38},{"x":-25.118,"y":-9.947,"v":28},{"x":-25.069,"y":-9.947,"v":33},
{"x":-26.882,"y":-9.996,"v":33},{"x":-26.833,"y":-9.996,"v":28},{"x":-26.784,"y":-9.996,"v":28},{"x":-26.735,"y":-9.996,"v":17},{"x":-26.686,"y":-9.996,"v":70},{"x":-26.637,"y":-9.996,"v":20},{"x":-26.588,"y":-9.996,"v":33},{"x":-26.539,"y":-9.996,"v":46},{"x":-26.49,"y":-9.996,"v":24},{"x":-26.441,"y":-9.996,"v":20},{"x":-26.392,"y":-9.996,"v":33},{"x":-26.343,"y":-9.996,"v":20},{"x":-26.294,"y":-9.996,"v":24},{"x":-26.245,"y":-9.996,"v":38},{"x":-26.196,"y":-9.996,"v":28},{"x":-26.147,"y":-9.996,"v":17},{"x":-26.098,"y":-9.996,"v":24},{"x":-26.049,"y":-9.996,"v":17},{"x":-26,"y":-9.996,"v":28},{"x":-25.951,"y":-9.996,"v":38},{"x":-25.902,"y":-9.996,"v":58},{"x":-25.853,"y":-9.996,"v":33},{"x":-25.804,"y":-9.996,"v":58},{"x":-25.755,"y":-9.996,"v":17},{"x":-25.706,"y":-9.996,"v":70},{"x":-25.657,"y":-9.996,"v":33},{"x":-25.608,"y":-9.996,"v":33},{"x":-25.559,"y":-9.996,"v":33},{"x":-25.51,"y":-9.996,"v":20},{"x":-25.461,"y":-9.996,"v":14},{"x":-25.412,"y":-9.996,"v":28},{"x":-25.363,"y":-9.996,"v":28},{"x":-25.314,"y":-9.996,"v":28},{"x":-25.265,"y":-9.996,"v":17},{"x":-25.216,"y":-9.996,"v":14},{"x":-25.167,"y":-9.996,"v":14},{"x":-25.118,"y":-9.996,"v":17},{"x":-25.069,"y":-9.996,"v":24},
{"x":-26.931,"y":-10.045,"v":38},{"x":-26.882,"y":-10.045,"v":11},{"x":-26.833,"y":-10.045,"v":33},{"x":-26.784,"y":-10.045,"v":33},{"x":-26.735,"y":-10.045,"v":20},{"x":-26.686,"y":-10.045,"v":28},{"x":-26.637,"y":-10.045,"v":17},{"x":-26.588,"y":-10.045,"v":24},{"x":-26.539,"y":-10.045,"v":20},{"x":-26.49,"y":-10.045,"v":24},{"x":-26.441,"y":-10.045,"v":46},{"x":-26.392,"y":-10.045,"v":58},{"x":-26.343,"y":-10.045,"v":20},{"x":-26.294,"y":-10.045,"v":33},{"x":-26.245,"y":-10.045,"v":11},{"x":-26.196,"y":-10.045,"v":24},{"x":-26.147,"y":-10.045,"v":20},{"x":-26.098,"y":-10.045,"v":14},{"x":-26.049,"y":-10.045,"v":20},{"x":-26,"y":-10.045,"v":20},{"x":-25.951,"y":-10.045,"v":24},{"x":-25.902,"y":-10.045,"v":33},{"x":-25.853,"y":-10.045,"v":20},{"x":-25.804,"y":-10.045,"v":28},{"x":-25.755,"y":-10.045,"v":17},{"x":-25.706,"y":-10.045,"v":33},{"x":-25.657,"y":-10.045,"v":33},{"x":-25.608,"y":-10.045,"v":24},{"x":-25.559,"y":-10.045,"v":24},{"x":-25.51,"y":-10.045,"v":24},{"x":-25.461,"y":-10.045,"v":24},{"x":-25.412,"y":-10.045,"v":33},{"x":-25.363,"y":-10.045,"v":20},{"x":-25.314,"y":-10.045,"v":33},{"x":-25.265,"y":-10.045,"v":17},{"x":-25.216,"y":-10.045,"v":24},{"x":-25.167,"y":-10.045,"v":14},{"x":-25.118,"y":-10.045,"v":17},{"x":-25.069,"y":-10.045,"v":17},
{"x":-26.931,"y":-10.094,"v":17},{"x":-26.882,"y":-10.094,"v":70},{"x":-26.833,"y":-10.094,"v":28},{"x":-26.784,"y":-10.094,"v":46},{"x":-26.735,"y":-10.094,"v":20},{"x":-26.686,"y":-10.094,"v":17},{"x":-26.637,"y":-10.094,"v":17},{"x":-26.588,"y":-10.094,"v":38},{"x":-26.539,"y":-10.094,"v":17},{"x":-26.49,"y":-10.094,"v":14},{"x":-26.441,"y":-10.094,"v":20},{"x":-26.392,"y":-10.094,"v":20},{"x":-26.343,"y":-10.094,"v":28},{"x":-26.294,"y":-10.094,"v":24},{"x":-26.245,"y":-10.094,"v":24},{"x":-26.196,"y":-10.094,"v":38},{"x":-26.147,"y":-10.094,"v":17},{"x":-26.098,"y":-10.094,"v":24},{"x":-26.049,"y":-10.094,"v":20},{"x":-26,"y":-10.094,"v":38},{"x":-25.951,"y":-10.094,"v":14},{"x":-25.902,"y":-10.094,"v":20},{"x":-25.853,"y":-10.094,"v":38},{"x":-25.804,"y":-10.094,"v":28},{"x":-25.755,"y":-10.094,"v":17},{"x":-25.706,"y":-10.094,"v":38},{"x":-25.657,"y":-10.094,"v":20},{"x":-25.608,"y":-10.094,"v":24},{"x":-25.559,"y":-10.094,"v":38},{"x":-25.51,"y":-10.094,"v":28},{"x":-25.461,"y":-10.094,"v":33},{"x":-25.412,"y":-10.094,"v":17},{"x":-25.363,"y":-10.094,"v":14},{"x":-25.314,"y":-10.094,"v":11},{"x":-25.265,"y":-10.094,"v":20},{"x":-25.216,"y":-10.094,"v":33},{"x":-25.167,"y":-10.094,"v":20},{"x":-25.118,"y":-10.094,"v":28},{"x":-25.069,"y":-10.094,"v":24},
{"x":-26.833,"y":-10.143,"v":58},{"x":-26.784,"y":-10.143,"v":24},{"x":-26.735,"y":-10.143,"v":33},{"x":-26.686,"y":-10.143,"v":20},{"x":-26.637,"y":-10.143,"v":20},{"x":-26.588,"y":-10.143,"v":28},{"x":-26.539,"y":-10.143,"v":33},{"x":-26.49,"y":-10.143,"v":20},{"x":-26.441,"y":-10.143,"v":20},{"x":-26.392,"y":-10.143,"v":20},{"x":-26.343,"y":-10.143,"v":28},{"x":-26.294,"y":-10.143,"v":46},{"x":-26.245,"y":-10.143,"v":11},{"x":-26.196,"y":-10.143,"v":14},{"x":-26.147,"y":-10.143,"v":24},{"x":-26.098,"y":-10.143,"v":24},{"x":-26.049,"y":-10.143,"v":24},{"x":-26,"y":-10.143,"v":11},{"x":-25.951,"y":-10.143,"v":24},{"x":-25.902,"y":-10.143,"v":46},{"x":-25.853,"y":-10.143,"v":20},{"x":-25.804,"y":-10.143,"v":14},{"x":-25.755,"y":-10.143,"v":33},{"x":-25.706,"y":-10.143,"v":20},{"x":-25.657,"y":-10.143,"v":33},{"x":-25.608,"y":-10.143,"v":20},{"x":-25.559,"y":-10.143,"v":17},{"x":-25.51,"y":-10.143,"v":17},{"x":-25.461,"y":-10.143,"v":11},{"x":-25.412,"y":-10.143,"v":17},{"x":-25.363,"y":-10.143,"v":33},{"x":-25.314,"y":-10.143,"v":38},{"x":-25.265,"y":-10.143,"v":14},{"x":-25.216,"y":-10.143,"v":14},{"x":-25.167,"y":-10.143,"v":24},{"x":-25.118,"y":-10.143,"v":38},
{"x":-26.882,"y":-10.192,"v":24},{"x":-26.833,"y":-10.192,"v":17},{"x":-26.784,"y":-10.192,"v":17},{"x":-26.735,"y":-10.192,"v":11},{"x":-26.686,"y":-10.192,"v":14},{"x":-26.637,"y":-10.192,"v":11},{"x":-26.588,"y":-10.192,"v":28},{"x":-26.539,"y":-10.192,"v":11},{"x":-26.49,"y":-10.192,"v":14},{"x":-26.441,"y":-10.192,"v":17},{"x":-26.392,"y":-10.192,"v":38},{"x":-26.343,"y":-10.192,"v":20},{"x":-26.294,"y":-10.192,"v":38},{"x":-26.245,"y":-10.192,"v":46},{"x":-26.196,"y":-10.192,"v":38},{"x":-26.147,"y":-10.192,"v":58},{"x":-26.098,"y":-10.192,"v":20},{"x":-26.049,"y":-10.192,"v":11},{"x":-26,"y":-10.192,"v":46},{"x":-25.951,"y":-10.192,"v":24},{"x":-25.902,"y":-10.192,"v":33},{"x":-25.853,"y":-10.192,"v":20},{"x":-25.804,"y":-10.192,"v":17},{"x":-25.755,"y":-10.192,"v":100},{"x":-25.706,"y":-10.192,"v":11},{"x":-25.657,"y":-10.192,"v":46},{"x":-25.608,"y":-10.192,"v":33},{"x":-25.559,"y":-10.192,"v":24},{"x":-25.51,"y":-10.192,"v":28},{"x":-25.461,"y":-10.192,"v":24},{"x":-25.412,"y":-10.192,"v":20},{"x":-25.363,"y":-10.192,"v":11},{"x":-25.314,"y":-10.192,"v":14},{"x":-25.265,"y":-10.192,"v":28},{"x":-25.216,"y":-10.192,"v":33},{"x":-25.167,"y":-10.192,"v":14},{"x":-25.118,"y":-10.192,"v":24},
{"x":-26.833,"y":-10.241,"v":33},{"x":-26.784,"y":-10.241,"v":24},{"x":-26.735,"y":-10.241,"v":33},{"x":-26.686,"y":-10.241,"v":46},{"x":-26.637,"y":-10.241,"v":17},{"x":-26.588,"y":-10.241,"v":28},{"x":-26.539,"y":-10.241,"v":17},{"x":-26.49,"y":-10.241,"v":28},{"x":-26.441,"y":-10.241,"v":17},{"x":-26.392,"y":-10.241,"v":17},{"x":-26.343,"y":-10.241,"v":38},{"x":-26.294,"y":-10.241,"v":20},{"x":-26.245,"y":-10.241,"v":28},{"x":-26.196,"y":-10.241,"v":17},{"x":-26.147,"y":-10.241,"v":17},{"x":-26.098,"y":-10.241,"v":11},{"x":-26.049,"y":-10.241,"v":24},{"x":-26,"y":-10.241,"v":20},{"x":-25.951,"y":-10.241,"v":28},{"x":-25.902,"y":-10.241,"v":20},{"x":-25.853,"y":-10.241,"v":11},{"x":-25.804,"y":-10.241,"v":110},{"x":-25.755,"y":-10.241,"v":900},{"x":-25.706,"y":-10.241,"v":20},{"x":-25.657,"y":-10.241,"v":17},{"x":-25.608,"y":-10.241,"v":17},{"x":-25.559,"y":-10.241,"v":17},{"x":-25.51,"y":-10.241,"v":20},{"x":-25.461,"y":-10.241,"v":33},{"x":-25.412,"y":-10.241,"v":17},{"x":-25.363,"y":-10.241,"v":20},{"x":-25.314,"y":-10.241,"v":11},{"x":-25.265,"y":-10.241,"v":24},{"x":-25.216,"y":-10.241,"v":17},{"x":-25.167,"y":-10.241,"v":24},
{"x":-26.833,"y":-10.29,"v":14},{"x":-26.784,"y":-10.29,"v":14},{"x":-26.735,"y":-10.29,"v":14},{"x":-26.686,"y":-10.29,"v":38},{"x":-26.637,"y":-10.29,"v":28},{"x":-26.588,"y":-10.29,"v":20},{"x":-26.539,"y":-10.29,"v":17},{"x":-26.49,"y":-10.29,"v":20},{"x":-26.441,"y":-10.29,"v":33},{"x":-26.392,"y":-10.29,"v":11},{"x":-26.343,"y":-10.29,"v":28},{"x":-26.294,"y":-10.29,"v":20},{"x":-26.245,"y":-10.29,"v":17},{"x":-26.196,"y":-10.29,"v":28},{"x":-26.147,"y":-10.29,"v":20},{"x":-26.098,"y":-10.29,"v":11},{"x":-26.049,"y":-10.29,"v":14},{"x":-26,"y":-10.29,"v":24},{"x":-25.951,"y":-10.29,"v":17},{"x":-25.902,"y":-10.29,"v":33},{"x":-25.853,"y":-10.29,"v":17},{"x":-25.804,"y":-10.29,"v":11},{"x":-25.755,"y":-10.29,"v":20},{"x":-25.706,"y":-10.29,"v":14},{"x":-25.657,"y":-10.29,"v":28},{"x":-25.608,"y":-10.29,"v":20},{"x":-25.559,"y":-10.29,"v":28},{"x":-25.51,"y":-10.29,"v":28},{"x":-25.461,"y":-10.29,"v":17},{"x":-25.412,"y":-10.29,"v":20},{"x":-25.363,"y":-10.29,"v":28},{"x":-25.314,"y":-10.29,"v":17},{"x":-25.265,"y":-10.29,"v":24},{"x":-25.216,"y":-10.29,"v":20},{"x":-25.167,"y":-10.29,"v":46},
{"x":-26.784,"y":-10.339,"v":28},{"x":-26.735,"y":-10.339,"v":38},{"x":-26.686,"y":-10.339,"v":20},{"x":-26.637,"y":-10.339,"v":33},{"x":-26.588,"y":-10.339,"v":28},{"x":-26.539,"y":-10.339,"v":20},{"x":-26.49,"y":-10.339,"v":17},{"x":-26.441,"y":-10.339,"v":24},{"x":-26.392,"y":-10.339,"v":24},{"x":-26.343,"y":-10.339,"v":17},{"x":-26.294,"y":-10.339,"v":20},{"x":-26.245,"y":-10.339,"v":95},{"x":-26.196,"y":-10.339,"v":24},{"x":-26.147,"y":-10.339,"v":20},{"x":-26.098,"y":-10.339,"v":11},{"x":-26.049,"y":-10.339,"v":20},{"x":-26,"y":-10.339,"v":14},{"x":-25.951,"y":-10.339,"v":24},{"x":-25.902,"y":-10.339,"v":20},{"x":-25.853,"y":-10.339,"v":11},{"x":-25.804,"y":-10.339,"v":11},{"x":-25.755,"y":-10.339,"v":24},{"x":-25.706,"y":-10.339,"v":33},{"x":-25.657,"y":-10.339,"v":20},{"x":-25.608,"y":-10.339,"v":20},{"x":-25.559,"y":-10.339,"v":24},{"x":-25.51,"y":-10.339,"v":28},{"x":-25.461,"y":-10.339,"v":24},{"x":-25.412,"y":-10.339,"v":28},{"x":-25.363,"y":-10.339,"v":28},{"x":-25.314,"y":-10.339,"v":58},{"x":-25.265,"y":-10.339,"v":24},{"x":-25.216,"y":-10.339,"v":17},
{"x":-26.784,"y":-10.388,"v":20},{"x":-26.735,"y":-10.388,"v":38},{"x":-26.686,"y":-10.388,"v":24},{"x":-26.637,"y":-10.388,"v":17},{"x":-26.588,"y":-10.388,"v":24},{"x":-26.539,"y":-10.388,"v":38},{"x":-26.49,"y":-10.388,"v":28},{"x":-26.441,"y":-10.388,"v":33},{"x":-26.392,"y":-10.388,"v":33},{"x":-26.343,"y":-10.388,"v":17},{"x":-26.294,"y":-10.388,"v":46},{"x":-26.245,"y":-10.388,"v":24},{"x":-26.196,"y":-10.388,"v":28},{"x":-26.147,"y":-10.388,"v":24},{"x":-26.098,"y":-10.388,"v":17},{"x":-26.049,"y":-10.388,"v":20},{"x":-26,"y":-10.388,"v":46},{"x":-25.951,"y":-10.388,"v":28},{"x":-25.902,"y":-10.388,"v":20},{"x":-25.853,"y":-10.388,"v":33},{"x":-25.804,"y":-10.388,"v":28},{"x":-25.755,"y":-10.388,"v":28},{"x":-25.706,"y":-10.388,"v":11},{"x":-25.657,"y":-10.388,"v":14},{"x":-25.608,"y":-10.388,"v":33},{"x":-25.559,"y":-10.388,"v":11},{"x":-25.51,"y":-10.388,"v":33},{"x":-25.461,"y":-10.388,"v":33},{"x":-25.412,"y":-10.388,"v":33},{"x":-25.363,"y":-10.388,"v":17},{"x":-25.314,"y":-10.388,"v":20},{"x":-25.265,"y":-10.388,"v":38},{"x":-25.216,"y":-10.388,"v":28},
{"x":-26.735,"y":-10.437,"v":14},{"x":-26.686,"y":-10.437,"v":17},{"x":-26.637,"y":-10.437,"v":20},{"x":-26.588,"y":-10.437,"v":20},{"x":-26.539,"y":-10.437,"v":28},{"x":-26.49,"y":-10.437,"v":28},{"x":-26.441,"y":-10.437,"v":33},{"x":-26.392,"y":-10.437,"v":28},{"x":-26.343,"y":-10.437,"v":24},{"x":-26.294,"y":-10.437,"v":17},{"x":-26.245,"y":-10.437,"v":20},{"x":-26.196,"y":-10.437,"v":38},{"x":-26.147,"y":-10.437,"v":17},{"x":-26.098,"y":-10.437,"v":46},{"x":-26.049,"y":-10.437,"v":11},{"x":-26,"y":-10.437,"v":28},{"x":-25.951,"y":-10.437,"v":20},{"x":-25.902,"y":-10.437,"v":38},{"x":-25.853,"y":-10.437,"v":24},{"x":-25.804,"y":-10.437,"v":11},{"x":-25.755,"y":-10.437,"v":28},{"x":-25.706,"y":-10.437,"v":17},{"x":-25.657,"y":-10.437,"v":20},{"x":-25.608,"y":-10.437,"v":33},{"x":-25.559,"y":-10.437,"v":20},{"x":-25.51,"y":-10.437,"v":20},{"x":-25.461,"y":-10.437,"v":17},{"x":-25.412,"y":-10.437,"v":33},{"x":-25.363,"y":-10.437,"v":33},{"x":-25.314,"y":-10.437,"v":70},{"x":-25.265,"y":-10.437,"v":28},
{"x":-26.686,"y":-10.486,"v":28},{"x":-26.637,"y":-10.486,"v":20},{"x":-26.588,"y":-10.486,"v":20},{"x":-26.539,"y":-10.486,"v":38},{"x":-26.49,"y":-10.486,"v":17},{"x":-26.441,"y":-10.486,"v":17},{"x":-26.392,"y":-10.486,"v":17},{"x":-26.343,"y":-10.486,"v":11},{"x":-26.294,"y":-10.486,"v":24},{"x":-26.245,"y":-10.486,"v":24},{"x":-26.196,"y":-10.486,"v":33},{"x":-26.147,"y":-10.486,"v":11},{"x":-26.098,"y":-10.486,"v":33},{"x":-26.049,"y":-10.486,"v":38},{"x":-26,"y":-10.486,"v":14},{"x":-25.951,"y":-10.486,"v":24},{"x":-25.902,"y":-10.486,"v":24},{"x":-25.853,"y":-10.486,"v":20},{"x":-25.804,"y":-10.486,"v":20},{"x":-25.755,"y":-10.486,"v":20},{"x":-25.706,"y":-10.486,"v":24},{"x":-25.657,"y":-10.486,"v":20},{"x":-25.608,"y":-10.486,"v":28},{"x":-25.559,"y":-10.486,"v":20},{"x":-25.51,"y":-10.486,"v":20},{"x":-25.461,"y":-10.486,"v":11},{"x":-25.412,"y":-10.486,"v":33},{"x":-25.363,"y":-10.486,"v":17},{"x":-25.314,"y":-10.486,"v":17},
{"x":-26.637,"y":-10.535,"v":17},{"x":-26.588,"y":-10.535,"v":24},{"x":-26.539,"y":-10.535,"v":28},{"x":-26.49,"y":-10.535,"v":20},{"x":-26.441,"y":-10.535,"v":20},{"x":-26.392,"y":-10.535,"v":28},{"x":-26.343,"y":-10.535,"v":24},{"x":-26.294,"y":-10.535,"v":20},{"x":-26.245,"y":-10.535,"v":17},{"x":-26.196,"y":-10.535,"v":14},{"x":-26.147,"y":-10.535,"v":28},{"x":-26.098,"y":-10.535,"v":20},{"x":-26.049,"y":-10.535,"v":20},{"x":-26,"y":-10.535,"v":33},{"x":-25.951,"y":-10.535,"v":24},{"x":-25.902,"y":-10.535,"v":11},{"x":-25.853,"y":-10.535,"v":70},{"x":-25.804,"y":-10.535,"v":14},{"x":-25.755,"y":-10.535,"v":24},{"x":-25.706,"y":-10.535,"v":28},{"x":-25.657,"y":-10.535,"v":28},{"x":-25.608,"y":-10.535,"v":24},{"x":-25.559,"y":-10.535,"v":58},{"x":-25.51,"y":-10.535,"v":28},{"x":-25.461,"y":-10.535,"v":33},{"x":-25.412,"y":-10.535,"v":33},{"x":-25.363,"y":-10.535,"v":24},
{"x":-26.588,"y":-10.584,"v":33},{"x":-26.539,"y":-10.584,"v":24},{"x":-26.49,"y":-10.584,"v":28},{"x":-26.441,"y":-10.584,"v":14},{"x":-26.392,"y":-10.584,"v":20},{"x":-26.343,"y":-10.584,"v":33},{"x":-26.294,"y":-10.584,"v":24},{"x":-26.245,"y":-10.584,"v":20},{"x":-26.196,"y":-10.584,"v":17},{"x":-26.147,"y":-10.584,"v":11},{"x":-26.098,"y":-10.584,"v":20},{"x":-26.049,"y":-10.584,"v":11},{"x":-26,"y":-10.584,"v":17},{"x":-25.951,"y":-10.584,"v":17},{"x":-25.902,"y":-10.584,"v":28},{"x":-25.853,"y":-10.584,"v":58},{"x":-25.804,"y":-10.584,"v":20},{"x":-25.755,"y":-10.584,"v":28},{"x":-25.706,"y":-10.584,"v":24},{"x":-25.657,"y":-10.584,"v":14},{"x":-25.608,"y":-10.584,"v":58},{"x":-25.559,"y":-10.584,"v":33},{"x":-25.51,"y":-10.584,"v":28},{"x":-25.461,"y":-10.584,"v":33},{"x":-25.412,"y":-10.584,"v":38},
{"x":-26.49,"y":-10.633,"v":24},{"x":-26.441,"y":-10.633,"v":28},{"x":-26.392,"y":-10.633,"v":38},{"x":-26.343,"y":-10.633,"v":28},{"x":-26.294,"y":-10.633,"v":20},{"x":-26.245,"y":-10.633,"v":58},{"x":-26.196,"y":-10.633,"v":20},{"x":-26.147,"y":-10.633,"v":17},{"x":-26.098,"y":-10.633,"v":20},{"x":-26.049,"y":-10.633,"v":28},{"x":-26,"y":-10.633,"v":28},{"x":-25.951,"y":-10.633,"v":24},{"x":-25.902,"y":-10.633,"v":20},{"x":-25.853,"y":-10.633,"v":17},{"x":-25.804,"y":-10.633,"v":38},{"x":-25.755,"y":-10.633,"v":20},{"x":-25.706,"y":-10.633,"v":17},{"x":-25.657,"y":-10.633,"v":14},{"x":-25.608,"y":-10.633,"v":17},{"x":-25.559,"y":-10.633,"v":28},{"x":-25.51,"y":-10.633,"v":14},
{"x":-26.392,"y":-10.682,"v":17},{"x":-26.343,"y":-10.682,"v":14},{"x":-26.294,"y":-10.682,"v":11},{"x":-26.245,"y":-10.682,"v":14},{"x":-26.196,"y":-10.682,"v":11},{"x":-26.147,"y":-10.682,"v":28},{"x":-26.098,"y":-10.682,"v":17},{"x":-26.049,"y":-10.682,"v":28},{"x":-26,"y":-10.682,"v":20},{"x":-25.951,"y":-10.682,"v":20},{"x":-25.902,"y":-10.682,"v":14},{"x":-25.853,"y":-10.682,"v":33},{"x":-25.804,"y":-10.682,"v":38},{"x":-25.755,"y":-10.682,"v":24},{"x":-25.706,"y":-10.682,"v":24},{"x":-25.657,"y":-10.682,"v":24},{"x":-25.608,"y":-10.682,"v":24},
{"x":-26.294,"y":-10.731,"v":17},{"x":-26.245,"y":-10.731,"v":24},{"x":-26.196,"y":-10.731,"v":20},{"x":-26.147,"y":-10.731,"v":17},{"x":-26.098,"y":-10.731,"v":17},{"x":-26.049,"y":-10.731,"v":17},{"x":-26,"y":-10.731,"v":33},{"x":-25.951,"y":-10.731,"v":14},{"x":-25.902,"y":-10.731,"v":24},{"x":-25.853,"y":-10.731,"v":11},{"x":-25.804,"y":-10.731,"v":11},{"x":-25.755,"y":-10.731,"v":17},{"x":-25.706,"y":-10.731,"v":33},
{"x":-26,"y":-10.78,"v":24}
]},
"hconcat":[{"width":1204,"height":1197,"view":{"fill":"#1a00c0","stroke":null},
"resolve":{"axis":{"x":"independent","y":"independent"}},
"layer":[
{"data":{"name":"cells"},"mark":{"type":"rect","width":29.8,"height":29.6,"clip":true},
"encoding":{"x":{"field":"x","type":"quantitative","scale":{"domain":[-27,-25],"nice":false,"zero":false},"title":"X (mm)",
"axis":{"orient":"bottom","values":[-27,-26.95,-26.9,-26.85,-26.8,-26.75,-26.7,-26.65,-26.6,-26.55,-26.5,-26.45,-26.4,-26.35,-26.3,-26.25,-26.2,-26.15,-26.1,-26.05,-26,-25.95,-25.9,-25.85,-25.8,-25.75,-25.7,-25.65,-25.6,-25.55,-25.5,-25.45,-25.4,-25.35,-25.3,-25.25,-25.2,-25.15,-25.1,-25.05,-25],"grid":false,"zindex":1,"domainColor":"#000","domainWidth":3,"tickColor":"#000","tickWidth":2,"tickSize":{"condition":{"test":"abs(datum.value*5-round(datum.value*5))<0.01","value":-13},"value":-7},"labelExpr":"abs(datum.value*5-round(datum.value*5))<0.01?''+datum.value:''","labelFont":"Liberation Sans","labelFontSize":39,"labelColor":"#111","labelPadding":43,"labelFlush":false,"labelOverlap":false,"titleFont":"Liberation Sans","titleFontSize":55,"titleFontWeight":"normal","titleColor":"#111","titlePadding":29}},
"y":{"field":"y","type":"quantitative","scale":{"domain":[-10.8,-8.8],"nice":false,"zero":false},"title":"Y (mm)",
"axis":{"orient":"left","values":[-10.8,-10.75,-10.7,-10.65,-10.6,-10.55,-10.5,-10.45,-10.4,-10.35,-10.3,-10.25,-10.2,-10.15,-10.1,-10.05,-10,-9.95,-9.9,-9.85,-9.8,-9.75,-9.7,-9.65,-9.6,-9.55,-9.5,-9.45,-9.4,-9.35,-9.3,-9.25,-9.2,-9.15,-9.1,-9.05,-9,-8.95,-8.9,-8.85,-8.8],"grid":false,"zindex":1,"domainColor":"#000","domainWidth":3,"tickColor":"#000","tickWidth":2,"tickSize":{"condition":{"test":"abs(datum.value*5-round(datum.value*5))<0.01","value":-13},"value":-7},"labelExpr":"abs(datum.value*5-round(datum.value*5))<0.01?''+datum.value:''","labelFont":"Liberation Sans","labelFontSize":39,"labelColor":"#111","labelPadding":44,"labelOverlap":false,"labelFlush":false,"titleFont":"Liberation Sans","titleFontSize":55,"titleFontWeight":"normal","titleColor":"#111","titlePadding":7}},
"color":{"field":"v","type":"quantitative","legend":null,"scale":{"type":"log","domain":[10,11.5,14,17,20,24,28,33,38,46,58,70,90,100,133,200,400,1000,1640,2800,4000,5600,8500,11000,16600,25000,25900,26000,30000],"range":["#1a00c0","#1a00c0","#1a18c0","#1c30c4","#2044c8","#2458c8","#2a6cc8","#2e80c8","#3090c8","#349fc8","#38aec8","#3cbcc8","#40c8b8","#40c8a0","#40c880","#40c850","#38c820","#30c800","#70c800","#a0c800","#c8c800","#c8b000","#c88000","#c86000","#c83800","#c80c00","#c80c00","#000000","#000000"]}}}},
{"data":{"values":[{"t":"ITM03 HR Absorption"}]},"mark":{"type":"text","align":"left","baseline":"alphabetic","font":"Liberation Sans","fontSize":47.5,"color":"#111","clip":false},
"encoding":{"text":{"field":"t"},"x":{"datum":-26.995,"type":"quantitative","title":null,"axis":{"orient":"top","values":[-27,-26.95,-26.9,-26.85,-26.8,-26.75,-26.7,-26.65,-26.6,-26.55,-26.5,-26.45,-26.4,-26.35,-26.3,-26.25,-26.2,-26.15,-26.1,-26.05,-26,-25.95,-25.9,-25.85,-25.8,-25.75,-25.7,-25.65,-25.6,-25.55,-25.5,-25.45,-25.4,-25.35,-25.3,-25.25,-25.2,-25.15,-25.1,-25.05,-25],"labels":false,"grid":false,"zindex":1,"domainColor":"#000","domainWidth":3,"tickColor":"#000","tickWidth":2,"tickSize":{"condition":{"test":"abs(datum.value*5-round(datum.value*5))<0.01","value":-13},"value":-7}}},"y":{"datum":-8.726,"type":"quantitative","title":null,"axis":{"orient":"right","values":[-10.8,-10.75,-10.7,-10.65,-10.6,-10.55,-10.5,-10.45,-10.4,-10.35,-10.3,-10.25,-10.2,-10.15,-10.1,-10.05,-10,-9.95,-9.9,-9.85,-9.8,-9.75,-9.7,-9.65,-9.6,-9.55,-9.5,-9.45,-9.4,-9.35,-9.3,-9.25,-9.2,-9.15,-9.1,-9.05,-9,-8.95,-8.9,-8.85,-8.8],"labels":false,"grid":false,"zindex":1,"domainColor":"#000","domainWidth":3,"tickColor":"#000","tickWidth":2,"tickSize":{"condition":{"test":"abs(datum.value*5-round(datum.value*5))<0.01","value":-13},"value":-7}}}}},
{"data":{"values":[{"t":"(φ"}]},"mark":{"type":"text","align":"left","baseline":"alphabetic","font":"Liberation Sans","fontSize":38,"color":"#111","clip":false},
"encoding":{"text":{"field":"t"},"x":{"datum":-26.192,"type":"quantitative","axis":null},"y":{"datum":-8.726,"type":"quantitative","axis":null}}},
{"data":{"values":[{"t":"beam"}]},"mark":{"type":"text","align":"left","baseline":"alphabetic","font":"Liberation Sans","fontSize":22,"color":"#111","clip":false},
"encoding":{"text":{"field":"t"},"x":{"datum":-26.142,"type":"quantitative","axis":null},"y":{"datum":-8.746,"type":"quantitative","axis":null}}},
{"data":{"values":[{"t":"= 60 µm, Step= 50 µm)"}]},"mark":{"type":"text","align":"left","baseline":"alphabetic","font":"Liberation Sans","fontSize":38,"color":"#111","clip":false},
"encoding":{"text":{"field":"t"},"x":{"datum":-26.032,"type":"quantitative","axis":null},"y":{"datum":-8.726,"type":"quantitative","axis":null}}}
]},
{"width":35,"height":1197,"view":{"stroke":null},
"data":{"values":[{"lo":10,"hi":11.5,"v":11},{"lo":11.5,"hi":13.1,"v":12},{"lo":13.1,"hi":15,"v":14},{"lo":15,"hi":17.2,"v":16},{"lo":17.2,"hi":19.7,"v":18},{"lo":19.7,"hi":22.6,"v":21},{"lo":22.6,"hi":25.8,"v":24},{"lo":25.8,"hi":29.6,"v":28},{"lo":29.6,"hi":33.9,"v":32},{"lo":33.9,"hi":38.8,"v":36},{"lo":38.8,"hi":44.4,"v":41},{"lo":44.4,"hi":50.8,"v":47},{"lo":50.8,"hi":58.2,"v":54},{"lo":58.2,"hi":66.7,"v":62},{"lo":66.7,"hi":76.3,"v":71},{"lo":76.3,"hi":87.4,"v":82},{"lo":87.4,"hi":100,"v":94},{"lo":100,"hi":114,"v":107},{"lo":114,"hi":131,"v":122},{"lo":131,"hi":150,"v":140},{"lo":150,"hi":172,"v":161},{"lo":172,"hi":197,"v":184},{"lo":197,"hi":226,"v":211},{"lo":226,"hi":258,"v":241},{"lo":258,"hi":296,"v":276},{"lo":296,"hi":339,"v":317},{"lo":339,"hi":388,"v":363},{"lo":388,"hi":444,"v":415},{"lo":444,"hi":508,"v":475},{"lo":508,"hi":582,"v":544},{"lo":582,"hi":667,"v":623},{"lo":667,"hi":763,"v":713},{"lo":763,"hi":874,"v":817},{"lo":874,"hi":1000,"v":935},{"lo":1000,"hi":1145,"v":1070},{"lo":1145,"hi":1311,"v":1225},{"lo":1311,"hi":1500,"v":1402},{"lo":1500,"hi":1720,"v":1606},{"lo":1720,"hi":1970,"v":1840},{"lo":1970,"hi":2260,"v":2110},{"lo":2260,"hi":2580,"v":2415},{"lo":2580,"hi":2960,"v":2763},{"lo":2960,"hi":3390,"v":3168},{"lo":3390,"hi":3880,"v":3627},{"lo":3880,"hi":4440,"v":4150},{"lo":4440,"hi":5080,"v":4750},{"lo":5080,"hi":5820,"v":5437},{"lo":5820,"hi":6670,"v":6230},{"lo":6670,"hi":7630,"v":7134},{"lo":7630,"hi":8740,"v":8166},{"lo":8740,"hi":10000,"v":9349},{"lo":10000,"hi":11450,"v":10700},{"lo":11450,"hi":13110,"v":12250},{"lo":13110,"hi":15000,"v":14020},{"lo":15000,"hi":17200,"v":16060},{"lo":17200,"hi":19700,"v":18400},{"lo":19700,"hi":22600,"v":21100},{"lo":22600,"hi":26000,"v":24240},{"lo":26000,"hi":30000,"v":28000}]},
"layer":[
{"mark":{"type":"rect","strokeWidth":0.7},"encoding":{"y":{"field":"lo","type":"quantitative","title":null,"scale":{"type":"log","domain":[10,30000],"nice":false},"axis":{"orient":"right","values":[20,30,40,50,60,70,80,90,200,300,400,500,600,700,800,900,2000,3000,4000,5000,6000,7000,8000,9000,20000],"labels":false,"domain":false,"grid":false,"zindex":1,"tickColor":"#000","tickWidth":2,"tickSize":-16}},"y2":{"field":"hi"},
"color":{"field":"v","type":"quantitative","legend":null,"scale":{"type":"log","domain":[10,11.5,14,17,20,24,28,33,38,46,58,70,90,100,133,200,400,1000,1640,2800,4000,5600,8500,11000,16600,25000,25900,26000,30000],"range":["#1a00c0","#1a00c0","#1a18c0","#1c30c4","#2044c8","#2458c8","#2a6cc8","#2e80c8","#3090c8","#349fc8","#38aec8","#3cbcc8","#40c8b8","#40c8a0","#40c880","#40c850","#38c820","#30c800","#70c800","#a0c800","#c8c800","#c8b000","#c88000","#c86000","#c83800","#c80c00","#c80c00","#000000","#000000"]}},
"stroke":{"field":"v","type":"quantitative","legend":null,"scale":{"type":"log","domain":[10,11.5,14,17,20,24,28,33,38,46,58,70,90,100,133,200,400,1000,1640,2800,4000,5600,8500,11000,16600,25000,25900,26000,30000],"range":["#1a00c0","#1a00c0","#1a18c0","#1c30c4","#2044c8","#2458c8","#2a6cc8","#2e80c8","#3090c8","#349fc8","#38aec8","#3cbcc8","#40c8b8","#40c8a0","#40c880","#40c850","#38c820","#30c800","#70c800","#a0c800","#c8c800","#c8b000","#c88000","#c86000","#c83800","#c80c00","#c80c00","#000000","#000000"]}}}},
{"data":{"values":[{"lo":10,"hi":30000}]},"mark":{"type":"rect","filled":false,"stroke":"#000","strokeWidth":4},"encoding":{"y":{"field":"lo","type":"quantitative"},"y2":{"field":"hi"}}},
{"data":{"values":[{"d":100,"e":"2"},{"d":1000,"e":"3"},{"d":10000,"e":"4"}]},"layer":[
{"mark":{"type":"rule","color":"#000","strokeWidth":2.5},"encoding":{"y":{"field":"d","type":"quantitative"}}},
{"mark":{"type":"text","align":"left","baseline":"middle","font":"Liberation Sans","fontSize":44,"color":"#111","clip":false},"encoding":{"text":{"value":"10"},"x":{"datum":1.49,"type":"quantitative","scale":{"domain":[0,1]},"axis":null},"y":{"field":"d","type":"quantitative"}}},
{"mark":{"type":"text","align":"left","baseline":"middle","dy":-18,"font":"Liberation Sans","fontSize":34,"color":"#111","clip":false},"encoding":{"text":{"field":"e"},"x":{"datum":3.34,"type":"quantitative","scale":{"domain":[0,1]},"axis":null},"y":{"field":"d","type":"quantitative"}}}
]},
{"data":{"values":[{"t":"(ppm)"}]},"mark":{"type":"text","align":"left","baseline":"alphabetic","font":"Liberation Sans","fontSize":36,"color":"#111","clip":false},"encoding":{"text":{"field":"t"},"x":{"datum":-0.94,"type":"quantitative","scale":{"domain":[0,1]},"axis":null},"y":{"datum":40300,"type":"quantitative"}}}
]}
]}
